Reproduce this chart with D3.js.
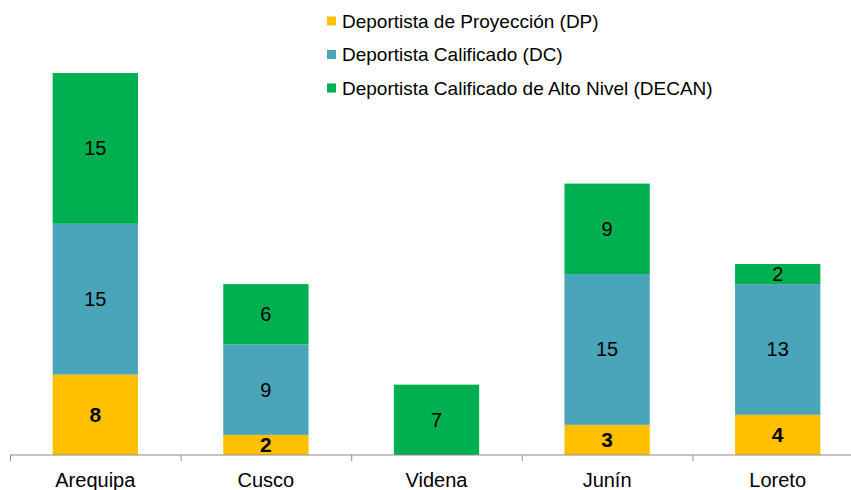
<!DOCTYPE html>
<html>
<head>
<meta charset="utf-8">
<script src="https://cdn.jsdelivr.net/npm/d3@7"></script>
<style>
  body { margin: 0; background: #fff; }
  text { font-family: "Liberation Sans", Arial, sans-serif; }
</style>
</head>
<body>
<div id="chart"></div>
<script>
// categories and series
const regions = ["Arequipa", "Cusco", "Videna", "Junín", "Loreto"];
const dpValues = [8, 2, 0, 3, 4];
const dcValues = [15, 9, 0, 15, 13];
const decanValues = [15, 6, 7, 9, 2];

const seriesNames = [
    "Deportista de Proyección (DP)",
    "Deportista Calificado (DC)",
    "Deportista Calificado de Alto Nivel (DECAN)"
];
const seriesColors = ["#FFC000", "#4BA5BA", "#00B050"];

const width = 851, height = 490;
const svg = d3.select("#chart").append("svg")
    .attr("width", width)
    .attr("height", height);

// build rows for stacking
const rows = regions.map((r, i) => ({region: r, dp: dpValues[i], dc: dcValues[i], decan: decanValues[i]}));
const keys = ["dp", "dc", "decan"];
const stacked = d3.stack().keys(keys)(rows);

// scales
const x = d3.scaleBand()
    .domain(regions)
    .range([10, 10 + 170.6 * regions.length])
    .paddingInner(0.5)
    .paddingOuter(0.25);

const y = d3.scaleLinear()
    .domain([0, 38])
    .range([455, 73]);

// bars
const layer = svg.selectAll(".layer")
    .data(stacked)
    .enter()
    .append("g")
    .attr("class", "layer")
    .attr("fill", (d, i) => seriesColors[i]);

layer.selectAll("rect")
    .data(d => d.filter(s => s[1] - s[0] > 0))
    .enter()
    .append("rect")
    .attr("x", d => x(d.data.region))
    .attr("y", d => y(d[1]))
    .attr("width", x.bandwidth())
    .attr("height", d => y(d[0]) - y(d[1]));

// value labels
stacked.forEach((s, si) => {
    svg.append("g").selectAll("text")
        .data(s.filter(d => d[1] - d[0] > 0))
        .enter()
        .append("text")
        .attr("x", d => x(d.data.region) + x.bandwidth() / 2)
        .attr("y", d => (y(d[0]) + y(d[1])) / 2)
        .attr("dy", "0.35em")
        .attr("text-anchor", "middle")
        .attr("font-size", si === 0 ? 21 : 20)
        .attr("font-weight", si === 0 ? "bold" : "normal")
        .attr("fill", "#000")
        .text(d => d[1] - d[0]);
});

// x axis
const axis = svg.append("g").attr("transform", "translate(0,455)");
axis.append("line")
    .attr("x1", 10).attr("x2", width)
    .attr("stroke", "#8c8c8c").attr("stroke-width", 1);

const step = x.step();
axis.selectAll(".tick")
    .data(d3.range(regions.length + 1))
    .enter()
    .append("line")
    .attr("x1", i => 10.5 + i * step)
    .attr("x2", i => 10.5 + i * step)
    .attr("y1", 0).attr("y2", 6)
    .attr("stroke", "#8c8c8c");

axis.selectAll(".cat")
    .data(regions)
    .enter()
    .append("text")
    .attr("x", d => x(d) + x.bandwidth() / 2)
    .attr("y", 25)
    .attr("dy", "0.35em")
    .attr("text-anchor", "middle")
    .attr("font-size", 20)
    .attr("fill", "#000")
    .text(d => d);

// legend
const legend = svg.append("g").attr("transform", "translate(327,0)");
const item = legend.selectAll(".item")
    .data(seriesNames)
    .enter()
    .append("g")
    .attr("transform", (d, i) => `translate(0,${21 + i * 33.5})`);

item.append("rect")
    .attr("x", 0).attr("y", -4.5)
    .attr("width", 9).attr("height", 9)
    .attr("fill", (d, i) => seriesColors[i]);

item.append("text")
    .attr("x", 15)
    .attr("y", 0)
    .attr("dy", "0.35em")
    .attr("font-size", 19)
    .attr("fill", "#000")
    .text(d => d);
</script>
</body>
</html>
